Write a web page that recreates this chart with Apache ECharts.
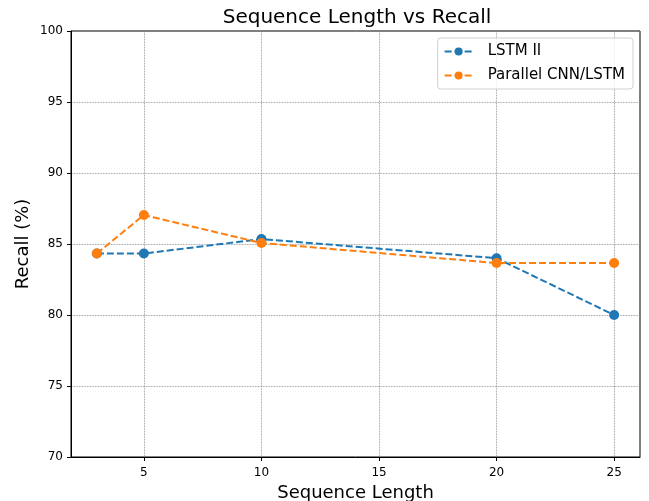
<!DOCTYPE html>
<html>
<head>
<meta charset="utf-8">
<script src="https://cdn.jsdelivr.net/npm/echarts@6/dist/echarts.min.js"></script>
<style>
  html, body { margin: 0; padding: 0; background: #fff; }
  #chart { width: 649px; height: 501px; }
</style>
</head>
<body>
<div id="chart"></div>
<script>
// data
const seqLengths = [3, 5, 10, 20, 25];
const lstmRecall = [84.33, 84.33, 85.35, 84.0, 80.0];
const parallelRecall = [84.33, 87.04, 85.07, 83.66, 83.66];
const xTicks = [5, 10, 15, 20, 25];

const font = 'DejaVu Sans';

const chart = echarts.init(document.getElementById('chart'));

function toPairs(xs, ys) {
  return xs.map((x, i) => [x, ys[i]]);
}

const option = {
  animation: false,
  backgroundColor: '#fff',
  title: {
    text: 'Sequence Length vs Recall',
    left: 352,
    textAlign: 'center',
    top: 3,
    textStyle: { fontFamily: font, fontSize: 20, fontWeight: 'normal', color: '#000' }
  },
  legend: {
    orient: 'vertical',
    right: 16,
    top: 38,
    padding: [6, 8, 6, 6],
    itemGap: 9,
    itemWidth: 28,
    itemHeight: 10,
    borderColor: '#d0d0d0',
    borderWidth: 1,
    borderRadius: 3,
    backgroundColor: 'rgba(255,255,255,0.8)',
    textStyle: { fontFamily: font, fontSize: 15, color: '#000', padding: [0, 0, 0, 10] },
    data: ['LSTM II', 'Parallel CNN/LSTM']
  },
  grid: {
    left: 71,
    right: 9,
    top: 31,
    bottom: 44,
    outerBoundsMode: 'none',
    containLabel: false,
    show: true,
    borderColor: '#000',
    borderWidth: 1
  },
  xAxis: {
    type: 'value',
    min: 1.9,
    max: 26.1,
    name: 'Sequence Length',
    nameLocation: 'middle',
    nameGap: 27,
    nameMoveOverlap: false,
    nameTextStyle: { fontFamily: font, fontSize: 18, color: '#000' },
    axisLine: { show: true, lineStyle: { color: '#000', width: 1 } },
    axisTick: { show: true, customValues: xTicks, length: 4, lineStyle: { color: '#000' } },
    axisLabel: { customValues: xTicks, fontFamily: font, fontSize: 12, color: '#000', margin: 10 },
    splitLine: { show: true, lineStyle: { color: '#808080', type: 'dotted', width: 0.8 } }
  },
  yAxis: {
    type: 'value',
    min: 70,
    max: 100,
    interval: 5,
    name: 'Recall (%)',
    nameLocation: 'middle',
    nameGap: 39,
    nameMoveOverlap: false,
    nameTextStyle: { fontFamily: font, fontSize: 18, color: '#000' },
    axisLine: { show: true, lineStyle: { color: '#000', width: 1 } },
    axisTick: { show: true, length: 4, lineStyle: { color: '#000' } },
    axisLabel: { fontFamily: font, fontSize: 12, color: '#000', margin: 8 },
    splitLine: { show: true, lineStyle: { color: '#808080', type: 'dotted', width: 0.8 } }
  },
  series: [
    {
      name: 'LSTM II',
      type: 'line',
      data: toPairs(seqLengths, lstmRecall),
      symbol: 'circle',
      symbolSize: 10,
      color: '#1f77b4',
      lineStyle: { width: 2, type: [7, 3] },
      itemStyle: { color: '#1f77b4' }
    },
    {
      name: 'Parallel CNN/LSTM',
      type: 'line',
      data: toPairs(seqLengths, parallelRecall),
      symbol: 'circle',
      symbolSize: 10,
      color: '#ff7f0e',
      lineStyle: { width: 2, type: [7, 3] },
      itemStyle: { color: '#ff7f0e' }
    }
  ]
};

chart.setOption(option);
</script>
</body>
</html>
